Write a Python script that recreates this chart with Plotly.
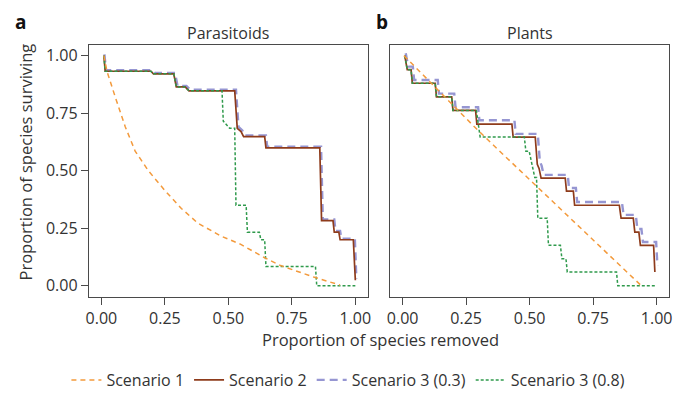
import plotly.graph_objects as go

# ---------------- data ----------------
tick_vals = [0, 0.25, 0.5, 0.75, 1.0]
tick_text = ["0.00", "0.25", "0.50", "0.75", "1.00"]
series_names = ["Scenario 1", "Scenario 2", "Scenario 3 (0.3)", "Scenario 3 (0.8)"]
panel_titles = ["Parasitoids", "Plants"]
panel_letters = ["a", "b"]

# Panel a: Parasitoids
para_s1_x = [0.01, 0.022, 0.055, 0.094, 0.133, 0.185, 0.25, 0.315, 0.38, 0.471, 0.549, 0.641, 0.706, 0.836, 0.94]
para_s1_y = [1.0, 0.932, 0.819, 0.691, 0.585, 0.5, 0.414, 0.336, 0.272, 0.216, 0.18, 0.123, 0.088, 0.038, 0.003]

para_s2_x = [0.01, 0.015, 0.195, 0.205, 0.285, 0.295, 0.33, 0.345, 0.525, 0.535, 0.55, 0.56, 0.643, 0.648, 0.86, 0.867, 0.912, 0.917, 0.935, 0.94, 0.992, 1.0]
para_s2_y = [1.0, 0.932, 0.932, 0.921, 0.921, 0.864, 0.864, 0.847, 0.847, 0.684, 0.67, 0.648, 0.648, 0.599, 0.599, 0.283, 0.283, 0.233, 0.233, 0.2, 0.2, 0.024]

para_s3a_x = [0.012, 0.018, 0.2, 0.21, 0.29, 0.3, 0.335, 0.35, 0.53, 0.54, 0.555, 0.565, 0.648, 0.653, 0.865, 0.872, 0.917, 0.922, 0.94, 0.945, 0.998, 1.004]
para_s3a_y = [1.005, 0.937, 0.937, 0.925, 0.925, 0.868, 0.868, 0.852, 0.852, 0.69, 0.675, 0.653, 0.653, 0.604, 0.604, 0.288, 0.288, 0.238, 0.238, 0.205, 0.205, 0.03]

para_s3b_x = [0.01, 0.015, 0.195, 0.205, 0.285, 0.295, 0.33, 0.345, 0.475, 0.48, 0.505, 0.525, 0.53, 0.57, 0.575, 0.622, 0.628, 0.643, 0.648, 0.843, 0.848, 1.0]
para_s3b_y = [1.0, 0.932, 0.932, 0.921, 0.921, 0.864, 0.864, 0.847, 0.847, 0.715, 0.684, 0.684, 0.35, 0.35, 0.233, 0.233, 0.2, 0.2, 0.084, 0.084, 0.0, 0.0]

# Panel b: Plants
plant_s1_x = [0.005, 0.274, 0.377, 0.94]
plant_s1_y = [1.0, 0.70, 0.59, 0.0]

plant_s2_x = [0.008, 0.018, 0.033, 0.038, 0.128, 0.133, 0.193, 0.198, 0.287, 0.292, 0.43, 0.435, 0.522, 0.53, 0.537, 0.545, 0.64, 0.645, 0.672, 0.677, 0.853, 0.86, 0.908, 0.914, 0.93, 0.936, 0.988, 0.993]
plant_s2_y = [1.0, 0.939, 0.939, 0.88, 0.88, 0.821, 0.821, 0.762, 0.762, 0.702, 0.702, 0.646, 0.646, 0.528, 0.51, 0.468, 0.468, 0.411, 0.411, 0.35, 0.35, 0.294, 0.294, 0.233, 0.233, 0.176, 0.176, 0.06]

plant_s3a_x = [0.012, 0.022, 0.04, 0.045, 0.138, 0.143, 0.203, 0.208, 0.297, 0.302, 0.44, 0.445, 0.532, 0.54, 0.547, 0.555, 0.65, 0.655, 0.682, 0.687, 0.863, 0.87, 0.918, 0.924, 0.94, 0.946, 0.998, 1.003]
plant_s3a_y = [1.01, 0.952, 0.952, 0.894, 0.894, 0.835, 0.835, 0.776, 0.776, 0.719, 0.719, 0.66, 0.66, 0.54, 0.522, 0.482, 0.482, 0.425, 0.425, 0.364, 0.364, 0.308, 0.308, 0.247, 0.247, 0.19, 0.19, 0.088]

plant_s3b_x = [0.008, 0.018, 0.033, 0.038, 0.128, 0.133, 0.193, 0.198, 0.29, 0.305, 0.479, 0.485, 0.498, 0.52, 0.527, 0.532, 0.569, 0.574, 0.621, 0.627, 0.643, 0.648, 0.842, 0.847, 1.0]
plant_s3b_y = [1.0, 0.939, 0.939, 0.88, 0.88, 0.821, 0.821, 0.762, 0.762, 0.646, 0.646, 0.585, 0.585, 0.471, 0.471, 0.294, 0.294, 0.176, 0.176, 0.117, 0.117, 0.06, 0.06, 0.0, 0.0]

# ---------------- styles ----------------
C_S1 = "#F39A3C"
C_S2 = "#8E3B1B"
C_S3A = "#9696D2"
C_S3B = "#2F9A4C"
TXT = "#333333"
FONT = "Open Sans"

styles = {
    "Scenario 1": dict(color=C_S1, width=1.5, dash="5px,4px"),
    "Scenario 2": dict(color=C_S2, width=1.7, dash="solid"),
    "Scenario 3 (0.3)": dict(color=C_S3A, width=2.4, dash="8px,5px"),
    "Scenario 3 (0.8)": dict(color=C_S3B, width=1.5, dash="3px,2px"),
}
ranks = {"Scenario 1": 1, "Scenario 2": 2, "Scenario 3 (0.3)": 3, "Scenario 3 (0.8)": 4}

panels = [
    ("x", "y", {
        "Scenario 3 (0.3)": (para_s3a_x, para_s3a_y),
        "Scenario 2": (para_s2_x, para_s2_y),
        "Scenario 3 (0.8)": (para_s3b_x, para_s3b_y),
        "Scenario 1": (para_s1_x, para_s1_y),
    }),
    ("x2", "y2", {
        "Scenario 3 (0.3)": (plant_s3a_x, plant_s3a_y),
        "Scenario 2": (plant_s2_x, plant_s2_y),
        "Scenario 3 (0.8)": (plant_s3b_x, plant_s3b_y),
        "Scenario 1": (plant_s1_x, plant_s1_y),
    }),
]

fig = go.Figure()
for i, (xa, ya, data) in enumerate(panels):
    for name, (xs, ys) in data.items():
        fig.add_trace(go.Scatter(
            x=xs, y=ys, mode="lines", name=name, xaxis=xa, yaxis=ya,
            line=styles[name], legendrank=ranks[name], showlegend=(i == 0),
            hoverinfo="skip",
        ))

W, H = 678, 397
dom_a = [86.7 / W, 368.3 / W]
dom_b = [390.7 / W, 672.3 / W]
dom_y = [1 - 301.7 / H, 1 - 44.7 / H]
xr = [-0.049, 1.05]
yr = [-0.047, 1.047]

axis_common = dict(showline=True, linecolor="#4a4a4a", linewidth=1.2, mirror=True,
                   showgrid=False, zeroline=False, ticks="outside", ticklen=7,
                   tickcolor="#4a4a4a", tickwidth=1.2,
                   tickfont=dict(family=FONT, size=16, color=TXT),
                   tickvals=tick_vals, ticktext=tick_text)

fig.update_layout(
    width=W, height=H,
    margin=dict(l=0, r=0, t=0, b=0),
    paper_bgcolor="white", plot_bgcolor="white",
    font=dict(family=FONT, color=TXT),
    xaxis=dict(domain=dom_a, range=xr, anchor="y", **axis_common),
    yaxis=dict(domain=dom_y, range=yr, anchor="x", **axis_common),
    xaxis2=dict(domain=dom_b, range=xr, anchor="y2", **axis_common),
    yaxis2=dict(domain=dom_y, range=yr, anchor="x2", **{**axis_common, "ticks": "", "showticklabels": False}),
    legend=dict(orientation="h", x=0.514, xanchor="center", y=1 - 387 / H, yanchor="middle",
                font=dict(family=FONT, size=16, color=TXT), itemwidth=30,
                bgcolor="rgba(0,0,0,0)", tracegroupgap=0),
    showlegend=True,
)

annos = [
    dict(text=panel_titles[0], x=(dom_a[0] + dom_a[1]) / 2, y=1 - 33 / H, font=dict(size=16)),
    dict(text=panel_titles[1], x=(dom_b[0] + dom_b[1]) / 2, y=1 - 33 / H, font=dict(size=16)),
    dict(text="<b>" + panel_letters[0] + "</b>", x=18 / W, y=1 - 21 / H, font=dict(size=19, color="#111")),
    dict(text="<b>" + panel_letters[1] + "</b>", x=382 / W, y=1 - 21 / H, font=dict(size=19, color="#111")),
    dict(text="Proportion of species removed", x=381 / W, y=1 - 345 / H, font=dict(size=16.5)),
    dict(text="Proportion of species surviving", x=23 / W, y=1 - 164 / H, font=dict(size=16.5), textangle=-90),
]
for a in annos:
    fig.add_annotation(xref="paper", yref="paper", showarrow=False,
                       xanchor="center", yanchor="middle",
                       font=dict(family=FONT, color=a["font"].get("color", TXT), size=a["font"]["size"]),
                       **{k: v for k, v in a.items() if k != "font"})

fig.write_html("out.html", config={"displayModeBar": False},
               post_script="document.body.style.margin='0px';document.body.style.overflow='hidden';")
